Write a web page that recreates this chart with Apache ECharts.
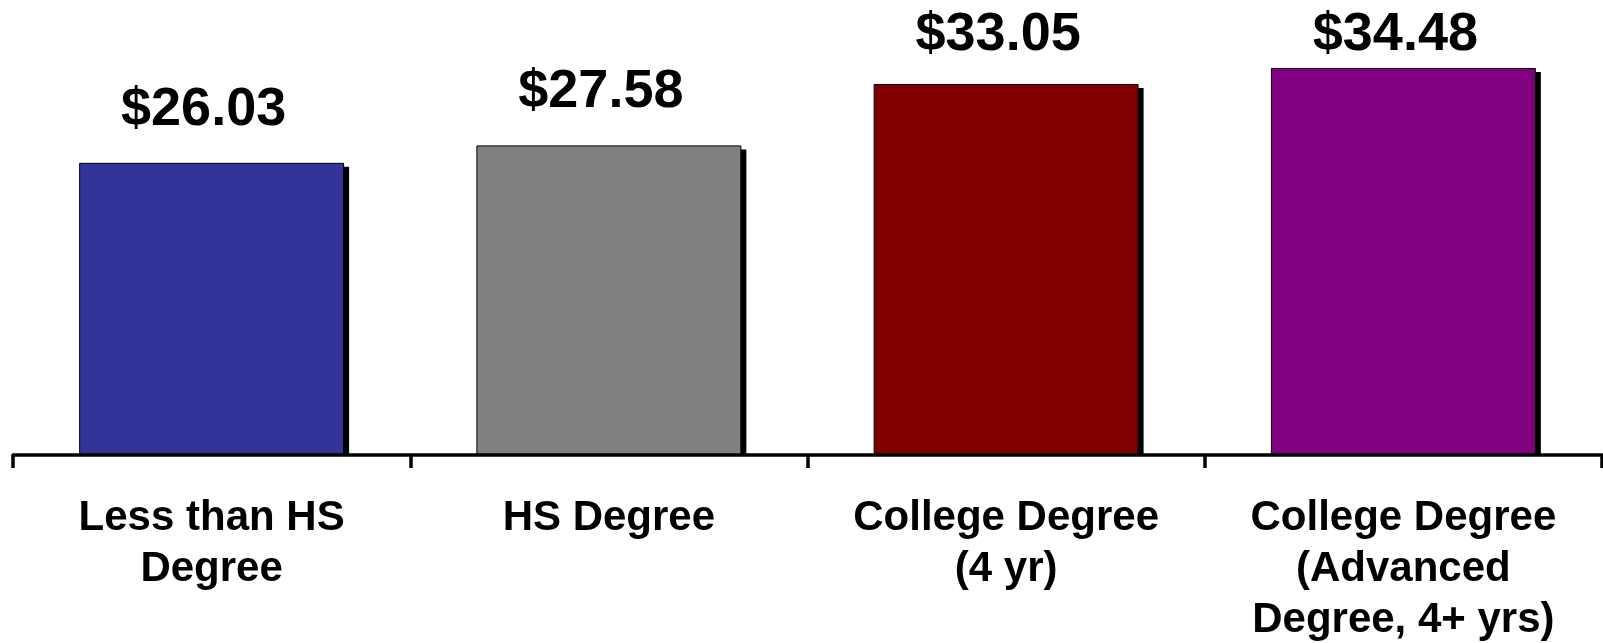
<!DOCTYPE html>
<html>
<head>
<meta charset="utf-8">
<script src="https://cdn.jsdelivr.net/npm/echarts@6/dist/echarts.min.js"></script>
<style>
    html, body { margin: 0; padding: 0; background: #fff; }
    #chart { width: 1603px; height: 643px; }
</style>
</head>
<body>
<div id="chart"></div>
<script>
var categories = ['Less than HS\nDegree', 'HS Degree', 'College Degree\n(4 yr)', 'College Degree\n(Advanced\nDegree, 4+ yrs)'];
var wages = [26.03, 27.58, 33.05, 34.48];
var barColors = ['#333399', '#808080', '#800000', '#800080'];
// how far each value label sits above its bar
var labelLift = [26, 26, 22, 6];

var font = '"Liberation Sans", Arial, sans-serif';
var barShare = 0.667;

var chart = echarts.init(document.getElementById('chart'));
var option = {
    animation: false,
    grid: {
        left: 13,
        right: 1,
        top: 6,
        bottom: 188,
        outerBoundsMode: 'none'
    },
    xAxis: {
        type: 'category',
        data: categories,
        z: 10,
        axisLine: { lineStyle: { color: '#000', width: 3.5 } },
        axisTick: { show: true, length: 13, lineStyle: { color: '#000', width: 3.5 } },
        axisLabel: {
            margin: 38,
            color: '#000',
            fontFamily: font,
            fontWeight: 'bold',
            fontSize: 42,
            lineHeight: 51,
            interval: 0
        }
    },
    yAxis: {
        type: 'value',
        min: 0,
        max: 40,
        show: false
    },
    series: [
        {
            // drop shadow behind each bar, stops at the axis
            type: 'custom',
            z: 1,
            silent: true,
            data: wages.map(function (v, i) { return [i, v]; }),
            encode: { x: 0, y: 1 },
            renderItem: function (params, api) {
                var top = api.coord([api.value(0), api.value(1)]);
                var base = api.coord([api.value(0), 0]);
                var w = api.size([1, 0])[0] * barShare;
                return {
                    type: 'rect',
                    shape: { x: top[0] - w / 2 + 5, y: top[1] + 4, width: w, height: base[1] - top[1] - 4 },
                    style: { fill: '#000' }
                };
            }
        },
        {
            type: 'bar',
            z: 2,
            barWidth: (barShare * 100) + '%',
            data: wages.map(function (v, i) {
                return {
                    value: v,
                    itemStyle: { color: barColors[i] },
                    label: { distance: labelLift[i] }
                };
            }),
            itemStyle: {
                borderColor: '#000',
                borderWidth: 1
            },
            label: {
                show: true,
                position: 'top',
                offset: [-8, 0],
                color: '#000',
                fontFamily: font,
                fontWeight: 'bold',
                fontSize: 54,
                formatter: function (p) {
                    return '$' + p.value.toFixed(2);
                }
            }
        }
    ]
};
chart.setOption(option);
</script>
</body>
</html>
